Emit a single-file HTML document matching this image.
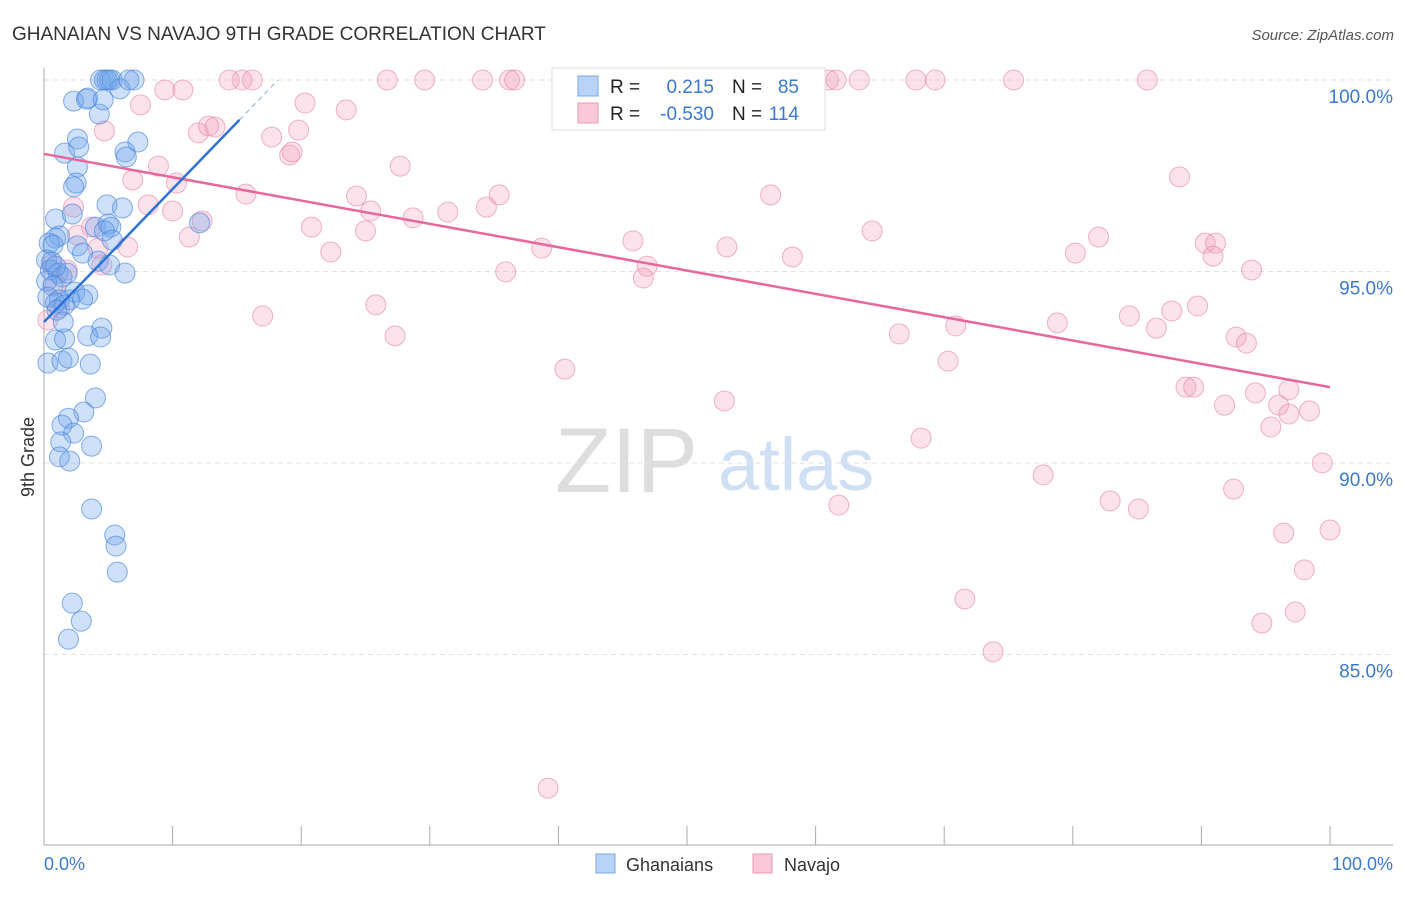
<!DOCTYPE html>
<html><head><meta charset="utf-8"><style>
body{margin:0;background:#fff;font-family:"Liberation Sans",sans-serif}
svg text{font-family:"Liberation Sans",sans-serif}
</style></head><body>
<svg id="chart" width="1406" height="892" xmlns="http://www.w3.org/2000/svg">
<text x="12" y="40" font-size="19" fill="#333">GHANAIAN VS NAVAJO 9TH GRADE CORRELATION CHART</text>
<text x="1394" y="40" font-size="15" fill="#555" text-anchor="end" font-style="italic">Source: ZipAtlas.com</text>
<g>
<text x="555" y="492" font-size="92" fill="#ddd" font-family="Liberation Serif, serif">ZIP</text>
<text x="718" y="490" font-size="74" fill="#cfe0f5">atlas</text>
</g>
<g id="grid"></g>
<line x1="44" y1="68" x2="44" y2="845" stroke="#aaa"/>
<line x1="44" y1="845" x2="1393" y2="845" stroke="#aaa"/>
<g id="xticks"></g>
<text transform="translate(34,457) rotate(-90)" font-size="18" fill="#333" text-anchor="middle">9th Grade</text>
<text x="44" y="870" font-size="18" fill="#3b78d0">0.0%</text>
<text x="1393" y="870" font-size="18" fill="#3b78d0" text-anchor="end">100.0%</text>
<g id="pink"></g><g id="blue"></g><g id="lines"></g>
<g>
<rect x="552" y="68" width="273" height="62" fill="#fff" stroke="#ddd"/>
<rect x="578" y="76" width="20" height="20" fill="#b8d3f5" stroke="#7aaae8"/>
<rect x="578" y="103" width="20" height="20" fill="#fac8d8" stroke="#ec9ab5"/>
<text x="610" y="93" font-size="19" fill="#222">R =</text><text x="714" y="93" font-size="19" fill="#3b78d0" text-anchor="end">0.215</text>
<text x="732" y="93" font-size="19" fill="#222">N =</text><text x="799" y="93" font-size="19" fill="#3b78d0" text-anchor="end">85</text>
<text x="610" y="120" font-size="19" fill="#222">R =</text><text x="714" y="120" font-size="19" fill="#3b78d0" text-anchor="end">-0.530</text>
<text x="732" y="120" font-size="19" fill="#222">N =</text><text x="799" y="120" font-size="19" fill="#3b78d0" text-anchor="end">114</text>
</g>
<g>
<rect x="596" y="854" width="19" height="19" fill="#b8d3f5" stroke="#7aaae8"/>
<text x="626" y="871" font-size="18" fill="#333">Ghanaians</text></g>
<g>
<rect x="753" y="854" width="19" height="19" fill="#fac8d8" stroke="#ec9ab5"/>
<text x="784" y="871" font-size="18" fill="#333">Navajo</text></g>
</svg>
<script>
const yTicks=[100,95,90,85];
const yTickLabels=["100.0%","95.0%","90.0%","85.0%"];
const xTicks=[0,10,20,30,40,50,60,70,80,90,100];
const blueX=[4.4,4.7,5.1,5.3,7.0,5.9,2.3,3.3,3.4,4.3,7.3,2.6,1.6,6.3,6.4,2.7,2.6,2.5,2.3,0.9,2.2,4.9,6.1,4.0,5.0,5.2,4.7,0.9,1.2,0.4,0.7,2.6,5.3,12.1,3.0,0.2,0.6,4.2,5.1,6.3,0.5,1.1,1.4,1.8,0.2,0.7,2.4,3.4,0.3,1.2,2.0,3.0,0.9,1.6,1.0,4.5,3.4,4.4,0.9,1.6,0.3,1.4,1.9,3.6,4.0,3.1,1.9,1.4,2.3,3.7,1.3,1.2,2.0,3.7,5.5,5.6,5.7,2.2,2.9,1.9,4.9,4.6,6.6,0.9,1.5];
const blueY=[100,100,100,100,100,99.77,99.45,99.5,99.53,99.11,98.38,98.46,98.09,98.12,97.99,98.25,97.73,97.31,97.21,96.37,96.5,96.74,96.66,96.16,96.24,96.16,96.06,95.87,95.93,95.74,95.69,95.67,95.82,96.27,95.48,95.3,95.25,95.27,95.17,94.96,95.04,94.96,94.86,94.96,94.75,94.62,94.46,94.39,94.33,94.26,94.26,94.28,94.18,94.13,93.99,93.52,93.32,93.29,93.21,93.24,92.61,92.66,92.74,92.58,91.7,91.33,91.17,90.99,90.78,90.44,90.55,90.16,90.05,88.8,88.12,87.83,87.15,86.34,85.87,85.4,100,99.48,100,95.14,93.68];
const pinkX=[15.4,16.2,26.7,29.6,34.1,36.2,36.6,43.7,52.5,61.0,61.6,63.4,67.8,69.3,75.4,85.8,14.4,9.4,10.8,7.5,20.3,23.5,12.0,12.8,13.3,17.7,19.8,19.1,19.3,27.7,4.7,8.9,6.9,10.3,15.7,24.3,8.1,10.0,35.4,34.4,25.4,28.7,31.4,20.8,25.0,12.3,11.3,6.5,3.7,4.2,22.3,38.7,45.8,53.1,58.2,64.4,82.0,80.2,90.3,91.1,90.9,93.9,88.3,56.5,35.9,46.9,46.6,25.8,17.0,27.3,40.5,66.5,70.9,78.8,84.4,86.5,87.7,89.7,92.7,93.5,70.3,88.8,89.4,94.2,96.8,91.8,96.0,96.8,98.4,95.4,52.9,68.2,77.7,99.4,61.8,82.9,85.1,92.5,96.4,100.0,98.0,71.6,94.7,97.3,73.8,39.2,2.3,0.6,1.8,4.5,0.9,0.3,1.2,2.6];
const pinkY=[100,100,100,100,100,100,100,100,100,100,100,100,100,100,100,100,100,99.74,99.74,99.35,99.4,99.22,98.62,98.8,98.77,98.51,98.69,98.04,98.12,97.75,98.67,97.75,97.39,97.31,97.02,96.97,96.74,96.58,97.0,96.68,96.58,96.4,96.55,96.16,96.06,96.32,95.9,95.64,96.16,95.61,95.51,95.61,95.8,95.64,95.38,96.06,95.9,95.48,95.74,95.74,95.4,95.04,97.47,97.0,94.99,95.14,94.83,94.13,93.84,93.32,92.45,93.37,93.58,93.66,93.84,93.52,93.97,94.1,93.29,93.13,92.66,91.98,91.98,91.83,91.91,91.51,91.51,91.28,91.36,90.94,91.62,90.65,89.69,90.0,88.9,89.01,88.8,89.32,88.17,88.25,87.21,86.45,85.82,86.11,85.07,81.51,96.68,95.17,95.04,95.17,94.65,93.73,94.05,95.95];
const blueTrend=[[0,93.68],[15.2,98.96]];
const blueTrendDash=[[15.2,98.96],[18.2,100]];
const pinkTrend=[[0,98.07],[100,91.98]];
const NS="http://www.w3.org/2000/svg";
const sx=v=>44+v*12.86, sy=v=>80+(100-v)*38.3;
function mk(tag,attrs,parent){const e=document.createElementNS(NS,tag);for(const k in attrs)e.setAttribute(k,attrs[k]);document.getElementById(parent).appendChild(e);return e;}
yTicks.forEach((t,i)=>{
 const l=mk('line',{x1:44,x2:1393,y1:sy(t),y2:sy(t),stroke:'#e2e2e2','stroke-dasharray':'5,4'},'grid');
 
 
 const tx=mk('text',{x:1393,y:sy(t)+23,'font-size':19,fill:'#3b78d0','text-anchor':'end'},'grid');
 tx.textContent=yTickLabels[i];
 
 
});
xTicks.forEach(t=>{
 const l=mk('line',{x1:sx(t),x2:sx(t),y1:826,y2:845,stroke:'#aaa'},'xticks');
 
 
});
pinkX.forEach((x,i)=>{
 const c=mk('circle',{cx:sx(x),cy:sy(pinkY[i]),r:10,fill:'rgba(243,160,190,0.3)',stroke:'rgba(230,130,165,0.6)','stroke-width':1},'pink');
 
 
});
blueX.forEach((x,i)=>{
 const c=mk('circle',{cx:sx(x),cy:sy(blueY[i]),r:10,fill:'rgba(110,165,235,0.33)',stroke:'rgba(70,130,220,0.65)','stroke-width':1},'blue');
 
 
});
const pl=mk('line',{x1:sx(pinkTrend[0][0]),y1:sy(pinkTrend[0][1]),x2:sx(pinkTrend[1][0]),y2:sy(pinkTrend[1][1]),stroke:'#e8679a','stroke-width':2.5},'lines');


const bl=mk('line',{x1:sx(blueTrend[0][0]),y1:sy(blueTrend[0][1]),x2:sx(blueTrend[1][0]),y2:sy(blueTrend[1][1]),stroke:'#2f72d6','stroke-width':2.5},'lines');


const bd=mk('line',{x1:sx(blueTrendDash[0][0]),y1:sy(blueTrendDash[0][1]),x2:sx(blueTrendDash[1][0]),y2:sy(blueTrendDash[1][1]),stroke:'#9bb8e0','stroke-width':1.2,'stroke-dasharray':'5,4'},'lines');


</script>
</body></html>
